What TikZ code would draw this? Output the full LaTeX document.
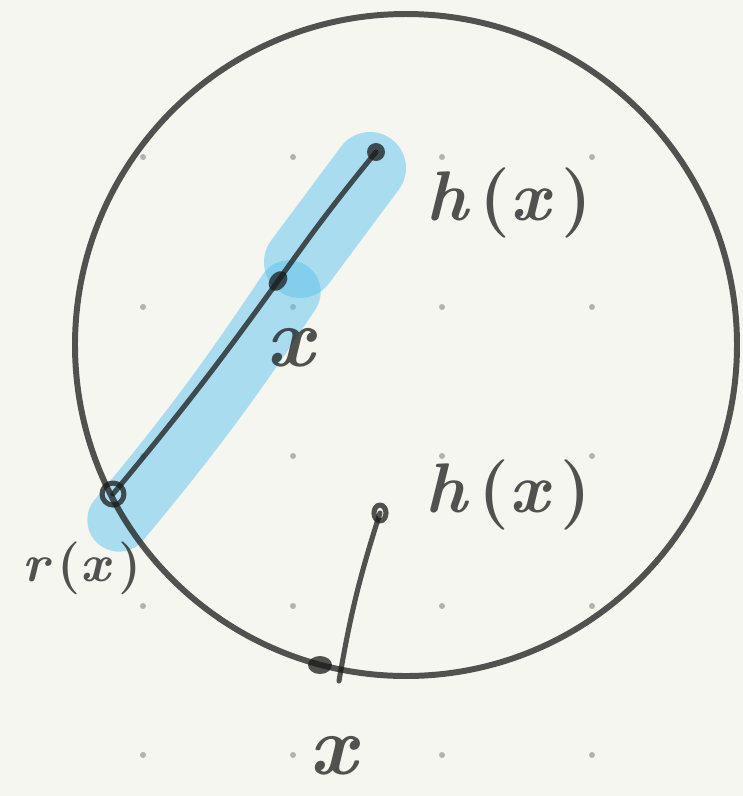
\documentclass[tikz,border=0pt]{standalone}
\usepackage{tikz}
\definecolor{paper}{HTML}{F6F6F1}
\definecolor{pencil}{HTML}{1A1A1A}
\definecolor{griddot}{HTML}{B2B2AE}
\definecolor{marker}{HTML}{5BC3ED}
\newcommand\handfn[1]{#1\,{\upshape(}x\,{\upshape)}}

\begin{document}
\begin{tikzpicture}[
    x=0.02cm, y=-0.02cm,
    ink/.style={draw=pencil, draw opacity=0.75, line width=3.4pt, line cap=round, line join=round},
    thinink/.style={ink, line width=2.9pt},
    blob/.style={fill=pencil, fill opacity=0.75},
    highlight/.style={draw=marker, draw opacity=0.5, line width=41pt, line cap=round, line join=round},
    lbl/.style={text=pencil, text opacity=0.75, font=\fontsize{40}{46}\selectfont\bfseries\itshape, inner sep=0pt},
    biglbl/.style={lbl, font=\fontsize{48}{54}\selectfont\bfseries\itshape}
]
  \fill[paper] (0,0) rectangle (743,796);
  \useasboundingbox (0,0) rectangle (743,796);

  \foreach \gx in {143,293,442,592}
    \foreach \gy in {157,307,456,606,755}
      \fill[griddot] (\gx,\gy) circle [radius=3];

  \coordinate (hx) at (376,152);
  \coordinate (xin) at (278,281);
  \coordinate (rx) at (113,494);
  \coordinate (ctr) at (406,345);
  \coordinate (hxb) at (380,513);
  \coordinate (xon) at (320,665);
  \coordinate (tail) at (339,681);

  \draw[highlight] (370,168) -- (300,262);
  \draw[highlight, line width=36pt] (289,292) to[bend left=3] (119,520);

  \draw[ink] (ctr) circle [radius=331];

  \draw[thinink] (hx) to[bend right=2] (xin) to[bend left=2] (rx);
  \draw[thinink] (hxb) to[bend right=4] (tail);

  \fill[blob] (hx) circle [radius=9];
  \fill[blob, rotate around={-40:(xin)}] (xin) ellipse [x radius=8, y radius=11];
  \draw[thinink] (rx) circle [radius=11];
  \draw[thinink] (hxb) ellipse [x radius=6, y radius=8];
  \fill[blob] (xon) ellipse [x radius=12, y radius=9];

  \node[lbl] (hxtop) at (509,203) {\handfn{h}};
  \node[biglbl] (xlbl) at (290,348) {x};
  \node[lbl, font=\fontsize{30}{36}\selectfont\bfseries\itshape] (rxlbl) at (82,568) {\handfn{r}};
  \node[lbl] (hxlow) at (508,495) {\handfn{h}};
  \node[biglbl] (xbot) at (333,756) {x};
\end{tikzpicture}
\end{document}
